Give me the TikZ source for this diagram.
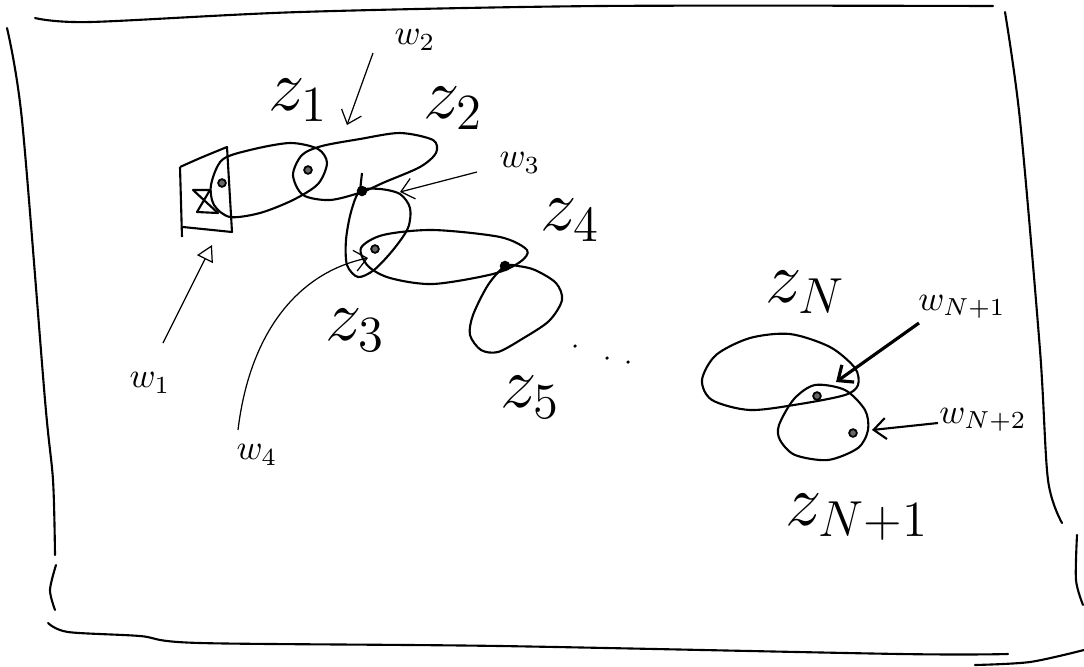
\documentclass[tikz,border=0pt]{standalone}
\usepackage{amsmath}
\usepackage{amssymb}
\usepackage{xcolor}
\usepackage{tikz}
\usetikzlibrary{arrows.meta, positioning, calc}

\begin{document}
\begin{tikzpicture}[x=0.01cm, y=-0.01cm,
  zloop/.style={line width=0.6pt, line join=round},
  border/.style={line width=0.6pt, line cap=round},
  wdot/.style={circle, draw, fill=black!60, line width=0.5pt, inner sep=0pt, minimum size=2.2pt},
  bigdot/.style={circle, fill, inner sep=0pt, minimum size=3pt},
  tinydot/.style={circle, fill, inner sep=0pt, minimum size=1pt},
  pointer/.style={line width=0.35pt, -{Straight Barb[length=3.5pt, width=6pt]}},
  zlab/.style={font=\fontsize{22}{26}\selectfont},
  wlab/.style={font=\fontsize{10}{12}\selectfont}]
  \useasboundingbox (0,0) rectangle (1084,666);

  % Hand drawn frame
  \draw[border] plot[smooth] coordinates {(35,18) (90,22) (300,12) (600,6) (993,6)};
  \draw[border] plot[smooth] coordinates {(7,28) (22,120) (45,400) (53,480) (55,555)};
  \draw[border] plot[smooth] coordinates {(56,565) (50,590) (55,610)};
  \draw[border] plot[smooth] coordinates {(48,623) (68,632) (140,636) (200,643) (500,646) (900,654) (1008,654)};
  \draw[border] plot[smooth] coordinates {(975,665) (1030,662) (1084,650)};
  \draw[border] plot[smooth] coordinates {(1005,12) (1020,120) (1040,350) (1048,480) (1062,523)};
  \draw[border] plot[smooth] coordinates {(1077,535) (1076,580) (1083,605)};

  % Box at the start
  \draw[zloop] (180,167) -- (182,237);
  \draw[zloop] (180,167) .. controls (200,158) .. (227,147) -- (232,232) -- (183,227);
  \draw[zloop] (193,190) -- (210,190) -- (197,212) -- (218,213) -- cycle;

  % Loops z_1 ... z_5
  \draw[zloop] plot[smooth cycle] coordinates {(211,185) (222,160) (250,150) (290,143) (318,149) (327,163) (318,184) (293,200) (260,213) (230,217) (214,205)};
  \draw[zloop] plot[smooth cycle] coordinates {(293,175) (302,155) (322,146) (360,139) (400,133) (433,140) (436,153) (420,167) (385,182) (362,192) (330,200) (303,195)};
  \draw[zloop] plot[smooth cycle] coordinates {(360,191) (351,212) (346,240) (347,265) (358,277) (374,270) (393,250) (408,228) (410,208) (400,194) (380,189)};
  \draw[zloop] (362,173) -- (360,191);
  \draw[zloop] plot[smooth cycle] coordinates {(361,248) (383,235) (433,230) (500,237) (527,250) (520,262) (493,274) (433,284) (390,278) (368,266)};
  \draw[zloop] plot[smooth cycle] coordinates {(505,266) (488,285) (473,315) (470,335) (481,350) (498,352) (522,339) (549,321) (562,300) (556,283) (535,270) (518,266)};

  % Loops z_N and z_N+1
  \draw[zloop] plot[smooth cycle] coordinates {(702,380) (716,355) (750,338) (790,334) (830,347) (855,368) (858,385) (845,395) (800,404) (750,410) (712,400)};
  \draw[zloop] plot[smooth cycle] coordinates {(779,425) (794,399) (815,385) (845,390) (865,410) (868,430) (858,448) (828,460) (795,455) (780,440)};

  % Points w_i
  \node[wdot] (p1) at (222,183) {};
  \node[wdot] (p2) at (308,170) {};
  \node[bigdot] (p3) at (362,191) {};
  \node[wdot] (p4) at (375,249) {};
  \node[bigdot] (p5) at (505,266) {};
  \node[wdot] (pN1) at (817,396) {};
  \node[wdot] (pN2) at (853,433) {};

  % Dots between z_5 and z_N
  \node[tinydot] (e1) at (575,346) {};
  \node[tinydot] (e2) at (607,358) {};
  \node[tinydot] (e3) at (628,362) {};

  % Labels
  \node[zlab] (z1) at (298,100) {$z_1$};
  \node[zlab] (z2) at (453,108) {$z_2$};
  \node[zlab] (z3) at (355,330) {$z_3$};
  \node[zlab] (z4) at (570,220) {$z_4$};
  \node[zlab] (z5) at (530,397) {$z_5$};
  \node[zlab] (zN) at (805,292) {$z_N$};
  \node[zlab] (zN1) at (857,517) {$z_{N+1}$};

  \node[wlab] (w1) at (150,383) {$w_1$};
  \node[wlab] (w2) at (415,40) {$w_2$};
  \node[wlab] (w3) at (520,163) {$w_3$};
  \node[wlab] (w4) at (257,455) {$w_4$};
  \node[wlab] (wN1) at (962,307) {$w_{N+1}$};
  \node[wlab] (wN2) at (983,420) {$w_{N+2}$};

  % Arrow ends
  \coordinate (t1) at (163,343);
  \coordinate (h1) at (212,245);
  \coordinate (t2) at (373,53);
  \coordinate (h2) at (347,125);
  \coordinate (t3) at (477,172);
  \coordinate (h3) at (400,192);
  \coordinate (t4) at (238,430);
  \coordinate (h4) at (368,258);
  \coordinate (tN1) at (919,323);
  \coordinate (hN1) at (836,382);
  \coordinate (tN2) at (938,423);
  \coordinate (hN2) at (872,430);

  % Arrows
  \draw[line width=0.35pt, -{Triangle[open, length=4.5pt, width=5pt]}] (t1) -- (h1);
  \draw[pointer] (t2) -- (h2);
  \draw[pointer] (t3) -- (h3);
  \draw[pointer] (t4) .. controls (250,330) and (300,272) .. (h4);
  \draw[pointer, line width=0.9pt] (tN1) -- (hN1);
  \draw[pointer, line width=0.6pt] (tN2) -- (hN2);
\end{tikzpicture}
\end{document}
